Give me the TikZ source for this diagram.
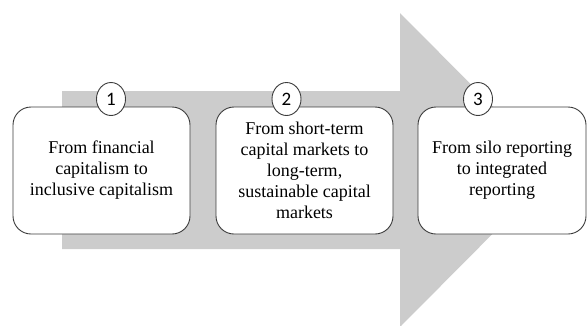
\documentclass[tikz,border=0pt]{standalone}
\usepackage{fontspec}
\setmainfont{Liberation Serif}
\newfontfamily\numfont{Carlito}
\usetikzlibrary{shapes.geometric}
\definecolor{arrowgray}{RGB}{204,204,204}
\definecolor{edgegray}{RGB}{60,60,60}
\tikzset{
  stagebox/.style={draw=edgegray, line width=0.9pt, fill=white, rounded corners=18pt,
    rectangle, minimum height=127pt, inner sep=0pt, align=center,
    font=\fontsize{18}{21}\selectfont},
  numbadge/.style={draw=edgegray, line width=0.9pt, fill=white, ellipse, inner sep=0pt,
    minimum width=29pt, minimum height=33pt, font=\numfont\fontsize{19}{19}\selectfont}
}
\begin{document}
\begin{tikzpicture}[x=1pt,y=-1pt]
\useasboundingbox (0,0) rectangle (587,325);
\clip (0,0) rectangle (587,325);
\fill[arrowgray] (62,91) -- (400,91) -- (400,13) -- (556,170) -- (400,327) -- (400,249) -- (62,249) -- cycle;
\node[stagebox, minimum width=177pt] (b1) at (101.5,170.5) {From financial\\capitalism to\\inclusive capitalism};
\node[stagebox, minimum width=177pt] (b2) at (304.5,170.5) {From short-term\\capital markets to\\long-term,\\sustainable capital\\markets};
\node[stagebox, minimum width=168pt] (b3) at (502,170.5) {From silo reporting\\to integrated\\reporting};
\node[numbadge] (n1) at (111,99) {1};
\node[numbadge] (n2) at (286.5,99) {2};
\node[numbadge] (n3) at (478,99) {3};
\end{tikzpicture}
\end{document}
